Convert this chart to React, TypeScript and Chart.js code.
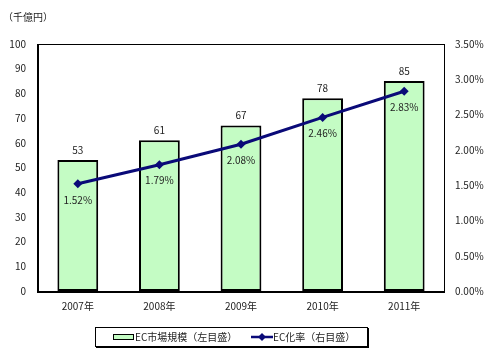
import React, { useEffect, useRef } from "react";
import { Chart, registerables } from "chart.js";

Chart.register(...registerables);

const categories = ["2007年", "2008年", "2009年", "2010年", "2011年"];
const marketSize = [53, 61, 67, 78, 85];
const ecRate = [1.52, 1.79, 2.08, 2.46, 2.83];
const leftTicks = [0, 10, 20, 30, 40, 50, 60, 70, 80, 90, 100];
const rightTicks = [0, 0.5, 1.0, 1.5, 2.0, 2.5, 3.0, 3.5];
const barLabel = "EC市場規模（左目盛）";
const lineLabel = "EC化率（右目盛）";
const unitLabel = "（千億円）";

const FONT = "'Noto Sans CJK JP', 'DejaVu Sans', sans-serif";
const TEXT = "#222";
const BAR_FILL = "#c4fcc4";
const LINE = "#0a0a78";

const overlay = {
  id: "overlay",
  afterDatasetsDraw(chart: any) {
    const ctx = chart.ctx;
    const a = chart.chartArea;
    ctx.save();
    // frame
    ctx.strokeStyle = "#000";
    ctx.lineWidth = 1;
    ctx.strokeRect(a.left + 0.5, a.top + 0.5, a.right - a.left - 1, a.bottom - a.top);
    ctx.lineWidth = 2;
    ctx.beginPath();
    ctx.moveTo(a.left + 1, a.top);
    ctx.lineTo(a.left + 1, a.bottom + 1);
    ctx.lineTo(a.right, a.bottom + 1);
    ctx.stroke();

    // bar labels
    ctx.fillStyle = TEXT;
    ctx.font = `10px ${FONT}`;
    ctx.textAlign = "center";
    ctx.textBaseline = "middle";
    const barMeta = chart.getDatasetMeta(0);
    barMeta.data.forEach((el: any, i: number) => {
      ctx.fillText(String(marketSize[i]), el.x, el.y - 10);
    });
    const lineMeta = chart.getDatasetMeta(1);
    lineMeta.data.forEach((el: any, i: number) => {
      ctx.fillText(ecRate[i].toFixed(2) + "%", el.x, el.y + 16);
    });

    // unit label
    ctx.textAlign = "left";
    ctx.fillText(unitLabel, 3, 17);

    // legend box
    const lx = 95, ly = 327, lw = 272, lh = 19;
    ctx.lineWidth = 1;
    ctx.strokeStyle = "#000";
    ctx.strokeRect(lx + 0.5, ly + 0.5, lw, lh);
    ctx.lineWidth = 2;
    ctx.beginPath();
    ctx.moveTo(lx + lw + 1, ly + 1);
    ctx.lineTo(lx + lw + 1, ly + lh + 1);
    ctx.lineTo(lx + 1, ly + lh + 1);
    ctx.stroke();
    const cy = ly + 10;
    // bar swatch
    ctx.fillStyle = BAR_FILL;
    ctx.fillRect(113, cy - 3, 21, 6);
    ctx.lineWidth = 1;
    ctx.strokeStyle = "#000";
    ctx.strokeRect(113.5, cy - 2.5, 20, 5);
    ctx.fillStyle = TEXT;
    ctx.fillText(barLabel, 135, cy);
    // line swatch
    ctx.strokeStyle = LINE;
    ctx.lineWidth = 2.5;
    ctx.beginPath();
    ctx.moveTo(251, cy);
    ctx.lineTo(273, cy);
    ctx.stroke();
    ctx.fillStyle = LINE;
    ctx.beginPath();
    ctx.moveTo(262, cy - 4);
    ctx.lineTo(266, cy);
    ctx.lineTo(262, cy + 4);
    ctx.lineTo(258, cy);
    ctx.closePath();
    ctx.fill();
    ctx.fillStyle = TEXT;
    ctx.fillText(lineLabel, 273, cy);
    ctx.restore();
  },
};

export default function App() {
  const ref = useRef<HTMLCanvasElement>(null);
  useEffect(() => {
    if (!ref.current) return;
    const chart = new Chart(ref.current, {
      type: "bar",
      data: {
        labels: categories,
        datasets: [
          {
            type: "bar",
            label: barLabel,
            data: marketSize,
            backgroundColor: BAR_FILL,
            borderColor: "#000",
            borderWidth: 2,
            borderSkipped: false,
            barPercentage: 0.5,
            categoryPercentage: 1,
            yAxisID: "y",
            order: 2,
          } as any,
          {
            type: "line",
            label: lineLabel,
            data: ecRate,
            borderColor: LINE,
            backgroundColor: LINE,
            borderWidth: 3,
            pointStyle: "rectRot",
            pointRadius: 4.5,
            pointBorderWidth: 0,
            yAxisID: "y1",
            order: 1,
          } as any,
        ],
      },
      options: {
        responsive: false,
        animation: false,
        devicePixelRatio: 1,
        layout: { padding: { top: 44, left: 0, right: 0, bottom: 40 } },
        plugins: { legend: { display: false }, tooltip: { enabled: false } },
        scales: {
          x: {
            grid: { display: false, drawTicks: false },
            border: { display: false },
            ticks: { color: TEXT, font: { family: FONT, size: 10 }, padding: 9 },
            afterFit: (s: any) => { s.height = 20; },
          },
          y: {
            position: "left",
            min: 0,
            max: 100,
            grid: { display: false, drawTicks: false },
            border: { display: false },
            afterBuildTicks: (s: any) => { s.ticks = leftTicks.map((v) => ({ value: v })); },
            ticks: { color: TEXT, font: { family: FONT, size: 10 }, padding: 11 },
            afterFit: (s: any) => { s.width = 37; },
          },
          y1: {
            position: "right",
            min: 0,
            max: 3.5,
            grid: { display: false, drawTicks: false },
            border: { display: false },
            afterBuildTicks: (s: any) => { s.ticks = rightTicks.map((v) => ({ value: v })); },
            ticks: {
              color: TEXT,
              font: { family: FONT, size: 10 },
              padding: 10,
              callback: (v: any) => Number(v).toFixed(2) + "%",
            },
            afterFit: (s: any) => { s.width = 55; },
          },
        },
      },
      plugins: [overlay],
    });
    return () => chart.destroy();
  }, []);
  return (
    <div style={{ position: "fixed", left: 0, top: 0, width: 500, height: 351, background: "#fff" }}>
      <canvas ref={ref} width={500} height={351} style={{ width: 500, height: 351 }} />
    </div>
  );
}
